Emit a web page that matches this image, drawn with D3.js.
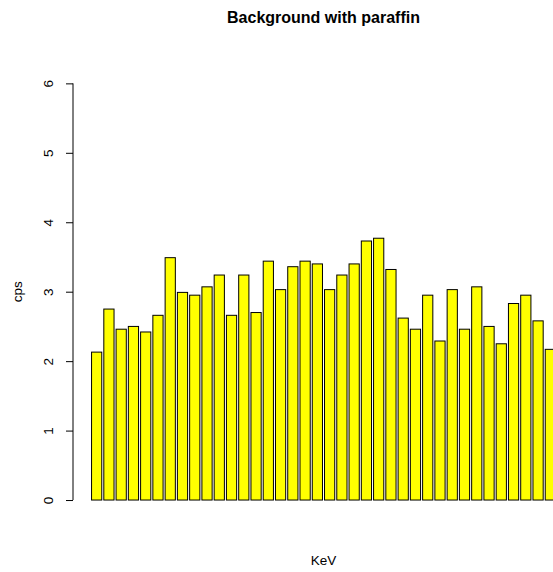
<!DOCTYPE html>
<html>
<head>
<meta charset="utf-8">
<script src="https://cdn.jsdelivr.net/npm/d3@7"></script>
<style>
  html, body { margin: 0; padding: 0; background: #fff; }
  svg { display: block; }
  text { font-family: "Liberation Sans", Arial, Helvetica, sans-serif; fill: #000; }
</style>
</head>
<body>
<svg id="chart" width="553" height="572"></svg>
<script>
// Counts per second for each energy channel
const cps = [
  2.13, 2.75, 2.46, 2.50, 2.42, 2.66, 3.49, 2.99, 2.95, 3.07,
  3.24, 2.66, 3.24, 2.70, 3.44, 3.03, 3.36, 3.44, 3.40, 3.03,
  3.24, 3.40, 3.73, 3.77, 3.32, 2.62, 2.46, 2.95, 2.29, 3.03,
  2.46, 3.07, 2.50, 2.25, 2.83, 2.95, 2.58, 2.17
];
const yTicks = [0, 1, 2, 3, 4, 5, 6];
const titleText = "Background with paraffin";
const xTitle = "KeV";
const yTitle = "cps";

const svg = d3.select("#chart");

// Plot region
const plot = { left: 73, right: 574, top: 66.7, bottom: 516.7 };

// Bars of unit width separated by 0.2 units of space
const space = 0.2, barW = 1;
const lefts = cps.map((_, i) => space + i * (barW + space));
const lo = d3.min(lefts), hi = d3.max(lefts) + barW;
const pad = (hi - lo) * 0.04;
const x = d3.scaleLinear().domain([lo - pad, hi + pad]).range([plot.left, plot.right]);

const yMax = 6, yPad = yMax * 0.04;
const y = d3.scaleLinear().domain([-yPad, yMax + yPad]).range([plot.bottom, plot.top]);

svg.append("g")
  .selectAll("rect")
  .data(cps)
  .join("rect")
  .attr("x", (d, i) => x(lefts[i]))
  .attr("width", (d, i) => x(lefts[i] + barW) - x(lefts[i]))
  .attr("y", d => y(d))
  .attr("height", d => y(0) - y(d))
  .attr("fill", "#ffff00")
  .attr("stroke", "#000")
  .attr("stroke-width", 1);

// Left axis
const axis = d3.axisLeft(y).tickValues(yTicks).tickSize(7).tickPadding(0).tickFormat(d3.format("d"));
const gy = svg.append("g").attr("transform", `translate(${plot.left},0)`).call(axis);
gy.select(".domain").attr("stroke", "#000").attr("d", `M0,${y(0)}V${y(6)}`);
gy.selectAll(".tick line").attr("stroke", "#000");
gy.selectAll(".tick text")
  .attr("x", null).attr("dy", null)
  .attr("text-anchor", "middle")
  .attr("transform", "translate(-20,0) rotate(-90)")
  .style("font-size", "13.5px")
  .style("font-family", "'Liberation Sans', Arial, sans-serif");

// Titles
const cx = (plot.left + plot.right) / 2;
svg.append("text")
  .attr("x", cx).attr("y", 22.5)
  .attr("text-anchor", "middle")
  .style("font-size", "16px").style("font-weight", "bold")
  .text(titleText);

svg.append("text")
  .attr("x", cx).attr("y", 565)
  .attr("text-anchor", "middle")
  .style("font-size", "13.5px")
  .text(xTitle);

svg.append("text")
  .attr("transform", `translate(22,${(plot.top + plot.bottom) / 2}) rotate(-90)`)
  .attr("text-anchor", "middle")
  .style("font-size", "13.5px")
  .text(yTitle);
</script>
</body>
</html>
